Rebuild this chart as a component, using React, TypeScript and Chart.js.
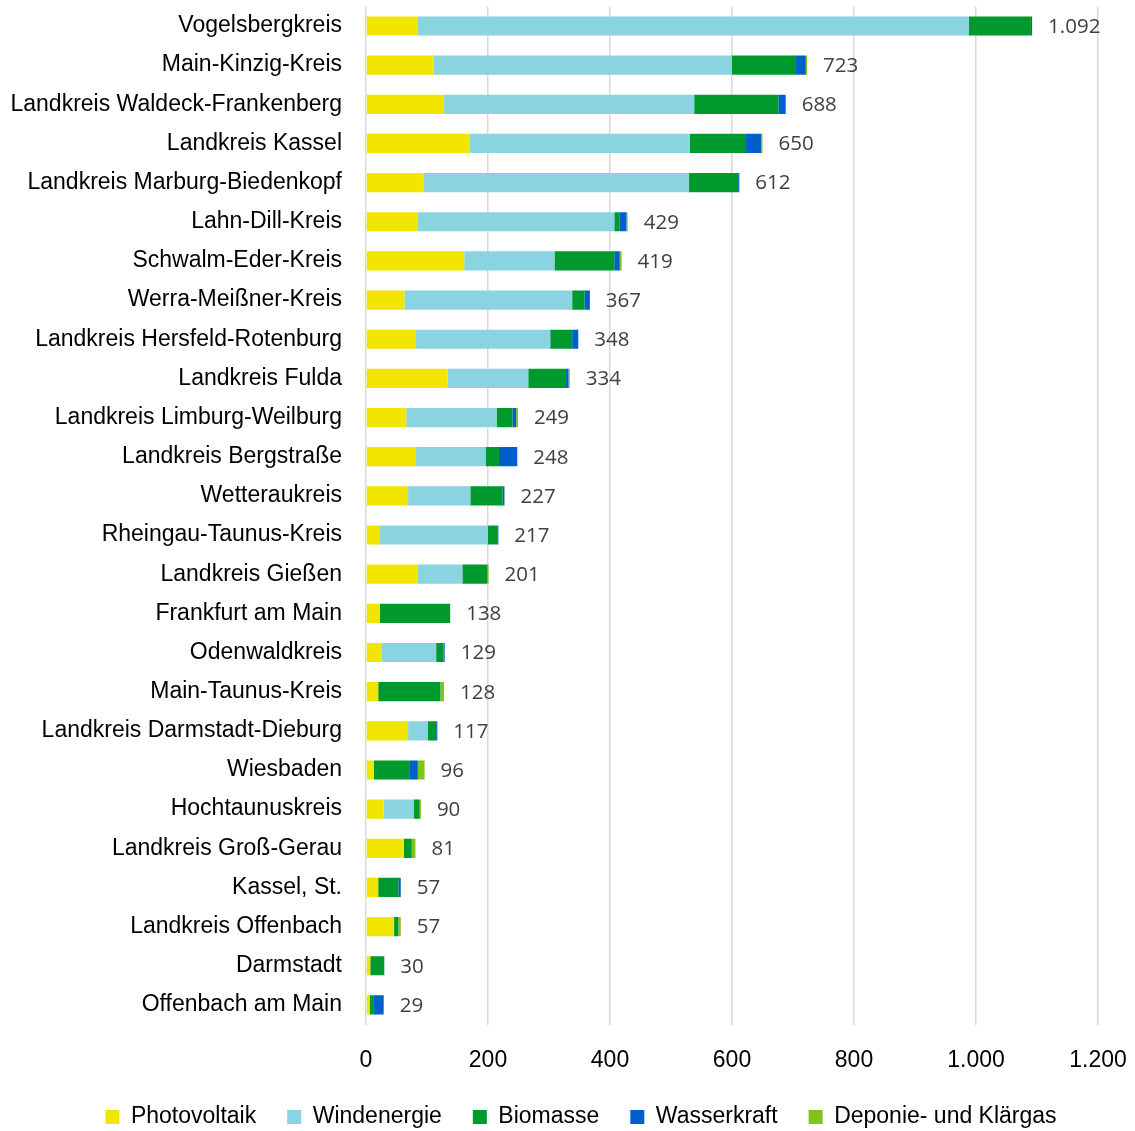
import { useEffect, useRef } from "react";
import { Chart, registerables } from "chart.js";

Chart.register(...registerables);

const categories = [
  "Vogelsbergkreis",
  "Main-Kinzig-Kreis",
  "Landkreis Waldeck-Frankenberg",
  "Landkreis Kassel",
  "Landkreis Marburg-Biedenkopf",
  "Lahn-Dill-Kreis",
  "Schwalm-Eder-Kreis",
  "Werra-Meißner-Kreis",
  "Landkreis Hersfeld-Rotenburg",
  "Landkreis Fulda",
  "Landkreis Limburg-Weilburg",
  "Landkreis Bergstraße",
  "Wetteraukreis",
  "Rheingau-Taunus-Kreis",
  "Landkreis Gießen",
  "Frankfurt am Main",
  "Odenwaldkreis",
  "Main-Taunus-Kreis",
  "Landkreis Darmstadt-Dieburg",
  "Wiesbaden",
  "Hochtaunuskreis",
  "Landkreis Groß-Gerau",
  "Kassel, St.",
  "Landkreis Offenbach",
  "Darmstadt",
  "Offenbach am Main",
];

const photovoltaik = [85, 111, 128, 170, 95, 85, 161, 63, 82, 134, 66, 82, 69, 23, 85, 23, 26, 20, 69, 13, 29, 62, 20, 46, 7, 6];
const windenergie = [903, 489, 410, 361, 434, 322, 148, 275, 220, 132, 148, 114, 102, 177, 73, 0, 89, 0, 32, 0, 49, 0, 0, 0, 0, 0];
const biomasse = [102, 105, 138, 92, 81, 9, 98, 20, 36, 62, 26, 22, 53, 15, 41, 115, 12, 102, 14, 59, 10, 13, 33, 7, 23, 7];
const wasserkraft = [2, 16, 12, 25, 2, 11, 9, 9, 10, 4, 6, 30, 3, 2, 0, 0, 2, 0, 2, 13, 0, 0, 4, 0, 0, 16];
const deponieKlaergas = [0, 2, 0, 2, 0, 2, 3, 0, 0, 2, 3, 0, 0, 0, 2, 0, 0, 6, 0, 11, 2, 6, 0, 4, 0, 0];

const totals = [1092, 723, 688, 650, 612, 429, 419, 367, 348, 334, 249, 248, 227, 217, 201, 138, 129, 128, 117, 96, 90, 81, 57, 57, 30, 29];

const xTicks = [0, 200, 400, 600, 800, 1000, 1200];

const fmt = (v: number) =>
  String(Math.round(v)).replace(/\B(?=(\d{3})+(?!\d))/g, ".");

const FONT = '"Liberation Sans", Arial, sans-serif';

const totalLabels = {
  id: "totalLabels",
  afterLayout(chart: any) {
    if (chart.legend) {
      chart.legend.left += 27;
      chart.legend.right += 27;
    }
  },
  afterDatasetsDraw(chart: any) {
    const { ctx, scales } = chart;
    const x = scales.x;
    const y = scales.y;
    ctx.save();
    ctx.font = '20.5px "Open Sans"';
    ctx.fillStyle = "#404040";
    ctx.textAlign = "left";
    ctx.textBaseline = "middle";
    categories.forEach((_, i) => {
      const sum = chart.data.datasets.reduce(
        (s: number, d: any) => s + (d.data[i] as number),
        0
      );
      ctx.fillText(fmt(totals[i]), x.getPixelForValue(sum) + 16, y.getPixelForValue(i) + 1);
    });
    ctx.restore();
  },
};

export default function App() {
  const ref = useRef<HTMLCanvasElement | null>(null);

  useEffect(() => {
    document.body.style.margin = "0";
    if (!ref.current) return;
    const common = { categoryPercentage: 1, barPercentage: 0.49, borderWidth: 0 };
    const chart = new Chart(ref.current, {
      type: "bar",
      data: {
        labels: categories,
        datasets: [
          { label: "Photovoltaik", data: photovoltaik, backgroundColor: "#F2E500", ...common },
          { label: "Windenergie", data: windenergie, backgroundColor: "#8AD3E0", ...common },
          { label: "Biomasse", data: biomasse, backgroundColor: "#00992E", ...common },
          { label: "Wasserkraft", data: wasserkraft, backgroundColor: "#005FCC", ...common },
          { label: "Deponie- und Klärgas", data: deponieKlaergas, backgroundColor: "#7FC31C", ...common },
        ],
      },
      options: {
        indexAxis: "y",
        animation: false,
        responsive: false,
        layout: { padding: { left: 10, right: 37, top: 6.4, bottom: 0 } },
        scales: {
          x: {
            stacked: true,
            min: 0,
            max: 1200,
            afterBuildTicks: (s: any) => {
              s.ticks = xTicks.map((v) => ({ value: v }));
            },
            ticks: {
              callback: (v: any) => fmt(Number(v)),
              font: { family: FONT, size: 23 },
              color: "#000000",
              padding: 22,
            },
            grid: { color: "#D9D9D9", lineWidth: 1.5, drawTicks: false },
            border: { display: false },
            afterFit: (s: any) => {
              s.height = 50;
              s.paddingLeft = 0;
              s.paddingRight = 0;
            },
          },
          y: {
            stacked: true,
            ticks: {
              font: { family: FONT, size: 23 },
              color: "#000000",
              padding: 24,
              autoSkip: false,
            },
            grid: { display: false, drawTicks: false },
            border: { display: false },
            afterFit: (s: any) => {
              s.width = 356;
              s.paddingTop = 0;
              s.paddingBottom = 0;
            },
          },
        },
        plugins: {
          legend: {
            position: "bottom",
            maxHeight: 56.5,
            labels: {
              boxWidth: 14,
              boxHeight: 14,
              padding: 31,
              font: { family: FONT, size: 23 },
              color: "#000000",
            },
          },
          tooltip: { enabled: false },
        },
      } as any,
      plugins: [totalLabels],
    });
    return () => chart.destroy();
  }, []);

  return (
    <div style={{ width: 1135, height: 1131 }}>
      <canvas ref={ref} width={1135} height={1131} style={{ display: "block" }} />
    </div>
  );
}
